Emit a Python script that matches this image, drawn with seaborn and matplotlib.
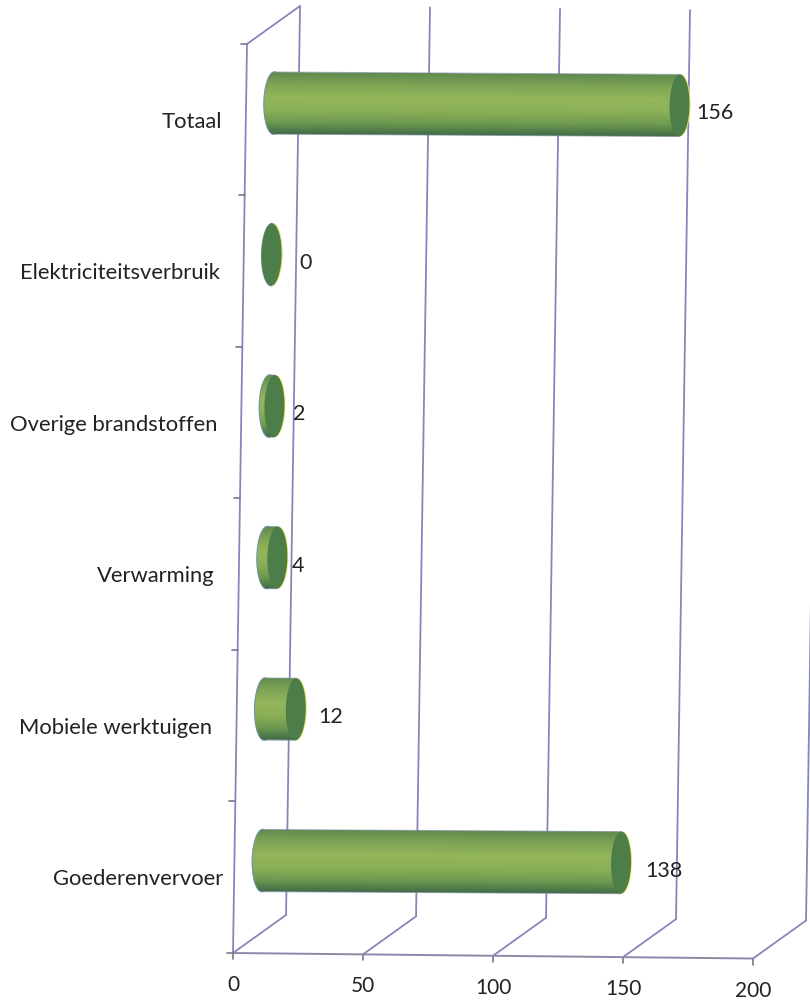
import numpy as np
import pandas as pd
import matplotlib
matplotlib.use('Agg')
import matplotlib.pyplot as plt
import seaborn as sns
from matplotlib.colors import LinearSegmentedColormap
from matplotlib.patches import Ellipse, PathPatch
from matplotlib.path import Path
from matplotlib.transforms import Affine2D

categories = ['Totaal', 'Elektriciteitsverbruik', 'Overige brandstoffen',
              'Verwarming', 'Mobiele werktuigen', 'Goederenvervoer']
values = [156, 0, 2, 4, 12, 138]
x_ticks = [0, 50, 100, 150, 200]

# layout tweaks, in pixels
cat_pad = [24, 24, 24, 24, 24, 11]
value_dx = [35, 34, 25, 21, 35, 43]

line_col = '#8686bd'
body_cmap = LinearSegmentedColormap.from_list(
    'cyl', ['#5f8a4e', '#7fa455', '#93b65a', '#8cb058', '#6f9a50', '#3f6b47'])
end_col = '#4d7e49'
r_end = 3.85

sns.set_theme(style='white')
plt.rcParams['font.family'] = ['Lato', 'DejaVu Sans']

fig = plt.figure(figsize=(8.1, 10), dpi=100)
ax = fig.add_axes([233 / 810, 47 / 1000, 520 / 810, 909 / 1000])

df = pd.DataFrame({'categorie': categories, 'waarde': values})
sns.barplot(data=df, x='waarde', y='categorie', orient='h', width=0.41,
            color=end_col, ax=ax)
ax.set_xlim(0, 200)
ax.set_ylim(5.5, -0.5)
ax.axis('off')


def plane(t, sy=0.000182, shift=0):
    # fake 3d: shear the flat axes, t=0 front wall, t=1 back wall
    sx = 0.897
    dx, dy = 20.4, -0.251
    m = np.array([[1, -sx, sx * 5.5 + t * dx],
                  [sy, 1, t * dy + shift],
                  [0, 0, 1]])
    return Affine2D(m) + ax.transData


front = plane(0)
back = plane(1)
mid = plane(0.53, sy=0.0001, shift=0.023)

line_kw = dict(color=line_col, lw=1.3, clip_on=False, zorder=1)
tick_kw = dict(color='#777790', lw=1.2, clip_on=False, zorder=1)
top, bottom = -0.5, 5.5

# walls and floor
for v in x_ticks:
    ax.plot([v, v], [bottom, top], transform=back, **line_kw)
    x0, y0 = front.transform((v, bottom))
    x1, y1 = back.transform((v, bottom))
    ax.plot([x0, x1], [y0, y1], transform=None, **line_kw)
    ax.plot([x0, x0], [y0, y0 - 6], transform=None, **tick_kw)
    ax.annotate(str(v), xy=(v, bottom), xycoords=front, xytext=(0, -32),
                textcoords='offset pixels', ha='center', va='center',
                fontsize=15, color='#222222')
ax.plot([0, 0], [bottom, top], transform=front, **line_kw)
ax.plot([0, 200], [bottom, bottom], transform=front, color='#8a8aa8', lw=1.4,
        clip_on=False, zorder=1)
x0, y0 = front.transform((0, top))
x1, y1 = back.transform((0, top))
ax.plot([x0, x1], [y0, y1], transform=None, **line_kw)
for p in np.arange(top, bottom + 1):
    x0, y0 = front.transform((0, p))
    ax.plot([x0 - 6, x0], [y0, y0], transform=None, **tick_kw)

# cylinders from the bars seaborn drew
grad = np.linspace(0, 1, 256).reshape(-1, 1)
for i, patch in enumerate(ax.patches[:len(values)]):
    x, y, w, h = patch.get_x(), patch.get_y(), patch.get_width(), patch.get_height()
    patch.set_visible(False)
    cy = y + h / 2
    theta = np.linspace(np.pi / 2, 3 * np.pi / 2, 40)
    cap_x = x + r_end * np.cos(theta)
    cap_y = cy - (h / 2) * np.sin(theta)
    verts = np.vstack([[[x + w, y]], np.column_stack([cap_x, cap_y]),
                       [[x + w, y + h]], [[x + w, y]]])
    body = Path(verts, closed=True)
    # coloured fringes on the print
    ax.add_patch(Ellipse((x, cy), 2 * r_end + 0.5, h + 0.01, fc='#6fa3d6', ec='none',
                         transform=mid, zorder=2))
    ax.add_patch(Ellipse((x + w + 0.35, cy), 2 * r_end, h, fc='#ecec5a', ec='none',
                         transform=mid, zorder=2))
    im = ax.imshow(grad, cmap=body_cmap, aspect='auto', origin='upper',
                   extent=(x - r_end, x + w + r_end, y + h, y),
                   transform=mid, zorder=3, interpolation='bilinear')
    im.set_clip_path(body, transform=mid)
    ax.add_patch(PathPatch(body, fc='none', ec='#7d8a9c', lw=0.7, alpha=0.7,
                           transform=mid, zorder=3.5))
    ax.add_patch(Ellipse((x + w, cy), 2 * r_end, h, fc=end_col, ec='none',
                         transform=mid, zorder=4))
    ax.annotate(str(values[i]), xy=(x + w, cy), xycoords=mid,
                xytext=(value_dx[i], -8), textcoords='offset pixels',
                ha='center', va='center', fontsize=15.5, color='#222222', zorder=5)
    ax.annotate(categories[i], xy=(0, i), xycoords=front,
                xytext=(-cat_pad[i], -2), textcoords='offset pixels',
                ha='right', va='center', fontsize=15.8, color='#222222')

ax.set_xlim(0, 200)
ax.set_ylim(5.5, -0.5)
fig.savefig('out.png', dpi=100)
